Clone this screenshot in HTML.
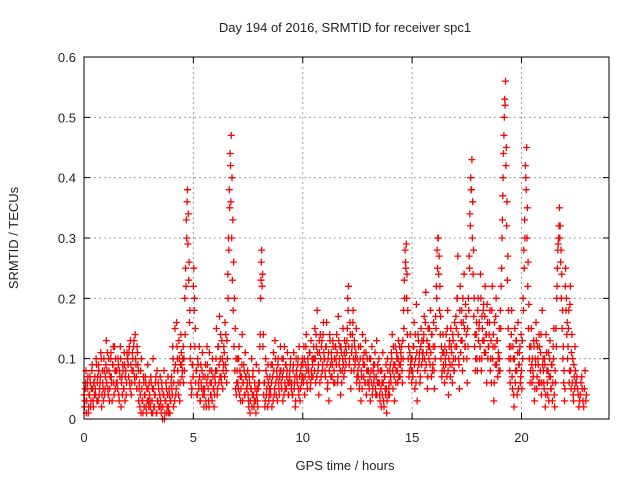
<!DOCTYPE html>
<html><head><meta charset="utf-8"><style>
body{margin:0;background:#fff;}
svg text{font-family:"Liberation Sans",sans-serif;font-size:13px;fill:#222;}
</style></head><body>
<svg id="chart" width="640" height="480" xmlns="http://www.w3.org/2000/svg">
<text x="345" y="32" text-anchor="middle">Day 194 of 2016, SRMTID for receiver spc1</text>
<text x="345" y="470" text-anchor="middle">GPS time / hours</text>
<text x="0" y="0" text-anchor="middle" transform="translate(18,238) rotate(-90)">SRMTID / TECUs</text>
<g id="grid"></g>
<g id="marks"></g>
<rect x="84" y="57" width="525" height="362" fill="none" stroke="#000" stroke-width="1"/>
<g id="ticks"></g>
</svg>
<script>
const xTicks=[0,5,10,15,20];
const yTicks=[0,0.1,0.2,0.3,0.4,0.5,0.6];
const yTickLabels=["0","0.1","0.2","0.3","0.4","0.5","0.6"];
const binStarts=[0,0.5,1,1.5,2,2.5,3,3.5,4,4.5,5,5.5,6,6.5,7,7.5,8,8.5,9,9.5,10,10.5,11,11.5,12,12.5,13,13.5,14,14.5,15,15.5,16,16.5,17,17.5,18,18.5,19,19.5,20,20.5,21,21.5,22,22.5];
const binValues=[
[.02,.05,.08,.03,.06,.01,.04,.07,.02,.05,.09,.03,.06,.04],
[.05,.1,.03,.07,.09,.04,.06,.11,.02,.08,.05,.1,.04,.07],
[.13,.08,.05,.1,.03,.07,.11,.06,.09,.12,.04,.08,.1,.06],
[.06,.1,.04,.08,.12,.02,.07,.09,.05,.11,.03,.08,.06,.1],
[.09,.11,.06,.13,.04,.08,.1,.12,.07,.14,.09,.05,.11,.08],
[.05,.02,.08,.1,.03,.01,.06,.04,.07,.02,.05,.09,.03,.06],
[.03,.07,.01,.05,.1,.02,.04,.06,.01,.08,.03,.05,.02,.07],
[.02,.06,0,.04,.08,.01,.03,.05,.02,.07,.01,.04,.03,.06],
[.05,.12,.02,.08,.15,.04,.16,.1,.06,.13,.03,.09,.11,.07],
[.1,.06,.08,.14,.22,.3,.38,.34,.26,.18,.12,.04,.09,.07],
[.25,.2,.15,.08,.04,.1,.06,.12,.03,.09,.05,.11,.07,.02],
[.05,.09,.02,.12,.07,.03,.11,.06,.04,.08,.1,.05,.02,.07],
[.08,.15,.04,.12,.06,.17,.1,.07,.13,.05,.09,.11,.16,.14],
[.06,.1,.2,.28,.35,.42,.47,.4,.33,.26,.2,.15,.1,.06],
[.1,.05,.12,.08,.03,.07,.14,.06,.09,.04,.11,.07,.05,.08],
[.03,.07,.01,.05,.1,.04,.08,.02,.06,.03,.09,.05,.02,.06],
[.06,.14,.23,.28,.24,.14,.06,.02,.1,.04,.07,.09,.03,.05],
[.05,.09,.02,.07,.11,.04,.13,.06,.08,.03,.1,.05,.07,.12],
[.06,.1,.03,.08,.12,.05,.09,.07,.11,.04,.06,.08,.1,.05],
[.04,.08,.11,.06,.02,.1,.07,.09,.05,.12,.03,.08,.06,.1],
[.07,.12,.04,.09,.14,.06,.1,.08,.11,.05,.13,.07,.09,.1],
[.1,.15,.06,.12,.18,.08,.04,.11,.14,.07,.13,.09,.16,.1],
[.08,.12,.16,.05,.1,.03,.14,.09,.11,.07,.13,.06,.1,.12],
[.1,.14,.06,.17,.09,.12,.04,.11,.08,.15,.07,.13,.1,.09],
[.13,.2,.22,.09,.16,.05,.11,.14,.18,.08,.12,.1,.15,.07],
[.08,.12,.05,.1,.03,.07,.14,.09,.11,.06,.13,.04,.1,.08],
[.06,.1,.03,.08,.12,.05,.09,.07,.11,.04,.13,.06,.08,.1],
[.04,.08,.02,.06,.11,.03,.07,.05,.09,.01,.1,.04,.06,.08],
[.07,.11,.14,.05,.09,.03,.12,.08,.1,.06,.13,.09,.07,.11],
[.12,.06,.1,.15,.2,.26,.29,.24,.18,.12,.08,.14,.1,.06],
[.08,.12,.16,.05,.1,.19,.03,.14,.09,.11,.07,.15,.13,.1],
[.13,.17,.08,.21,.11,.05,.15,.1,.12,.18,.07,.14,.09,.16],
[.05,.1,.15,.2,.25,.3,.27,.22,.17,.12,.08,.14,.11,.06],
[.1,.14,.07,.18,.04,.12,.09,.15,.11,.06,.13,.08,.16,.1],
[.15,.2,.27,.1,.05,.22,.13,.18,.08,.16,.24,.12,.19,.14],
[.06,.12,.18,.25,.32,.38,.43,.36,.28,.2,.14,.1,.16,.08],
[.2,.15,.1,.24,.08,.17,.13,.19,.11,.22,.14,.06,.16,.12],
[.14,.18,.1,.06,.22,.12,.03,.16,.09,.2,.13,.07,.11,.15],
[.08,.15,.25,.33,.4,.47,.53,.56,.45,.36,.27,.18,.12,.06],
[.12,.18,.05,.1,.02,.15,.08,.13,.04,.16,.09,.11,.06,.14],
[.05,.1,.18,.25,.3,.4,.45,.35,.26,.19,.12,.08,.15,.06],
[.08,.13,.03,.1,.16,.05,.12,.09,.14,.06,.11,.04,.18,.1],
[.06,.1,.02,.14,.08,.04,.11,.07,.13,.05,.09,.03,.12,.15],
[.02,.06,.12,.22,.28,.3,.35,.32,.28,.24,.18,.12,.08,.05],
[.25,.2,.16,.12,.18,.08,.22,.05,.14,.1,.03,.07,.12,.06],
[.07,.04,.03,.06,.05,.02,.08,.04]
];
const binValues2=[
[.04,.03,.06,.01,.05,.07,.02,.04,.06,.03,.08,.05,.02,.06],
[.07,.04,.09,.06,.03,.08,.05,.07,.1,.04,.06,.03,.08,.05],
[.09,.06,.11,.04,.08,.05,.1,.07,.03,.09,.06,.12,.05,.08],
[.08,.05,.09,.03,.07,.1,.06,.04,.08,.05,.09,.07,.04,.11],
[.1,.07,.12,.05,.09,.06,.11,.08,.13,.06,.1,.07,.12,.09],
[.03,.06,.04,.01,.05,.03,.07,.02,.04,.06,.01,.03,.05,.02],
[.04,.02,.06,.03,.01,.05,.02,.04,.07,.01,.03,.06,.02,.04],
[.03,.01,.05,.02,.04,0,.03,.06,.01,.04,.02,.05,.01,.03],
[.07,.04,.1,.06,.03,.09,.05,.12,.08,.04,.1,.06,.14,.09],
[.08,.12,.1,.2,.25,.33,.36,.29,.23,.16,.1,.06,.05,.09],
[.22,.18,.12,.06,.08,.04,.09,.05,.07,.03,.06,.08,.04,.05],
[.04,.07,.03,.06,.09,.05,.02,.08,.04,.06,.03,.07,.05,.04],
[.06,.1,.08,.05,.12,.09,.07,.14,.06,.1,.08,.12,.07,.09],
[.08,.13,.24,.3,.38,.44,.36,.3,.23,.18,.12,.08,.05,.04],
[.08,.06,.1,.04,.07,.05,.09,.03,.06,.08,.04,.07,.05,.06],
[.04,.02,.06,.03,.05,.02,.07,.04,.03,.05,.01,.04,.03,.05],
[.08,.12,.2,.26,.22,.12,.04,.06,.03,.08,.05,.02,.06,.04],
[.07,.04,.06,.09,.03,.08,.05,.1,.04,.07,.09,.06,.04,.08],
[.08,.05,.07,.1,.04,.06,.09,.05,.08,.06,.04,.07,.09,.06],
[.06,.04,.09,.05,.07,.03,.08,.06,.1,.04,.07,.05,.09,.07],
[.09,.06,.1,.07,.12,.08,.05,.09,.07,.11,.06,.08,.1,.07],
[.12,.08,.1,.14,.07,.11,.09,.13,.06,.1,.12,.08,.14,.11],
[.1,.07,.12,.09,.06,.11,.08,.13,.07,.1,.09,.12,.08,.06],
[.12,.09,.11,.07,.13,.1,.08,.12,.06,.1,.09,.11,.08,.12],
[.11,.15,.18,.12,.1,.14,.08,.12,.16,.1,.13,.09,.11,.06],
[.1,.07,.09,.06,.12,.08,.05,.1,.07,.09,.06,.11,.08,.06],
[.08,.05,.07,.1,.06,.04,.08,.06,.09,.05,.07,.04,.09,.06],
[.06,.03,.05,.08,.04,.06,.02,.07,.04,.05,.03,.08,.05,.04],
[.09,.06,.1,.08,.12,.07,.09,.06,.11,.08,.1,.07,.12,.09],
[.1,.08,.13,.18,.23,.28,.25,.2,.14,.1,.07,.11,.09,.08],
[.1,.07,.12,.09,.14,.06,.11,.08,.13,.1,.06,.12,.09,.11],
[.11,.14,.1,.16,.09,.13,.07,.12,.15,.09,.11,.14,.08,.12],
[.08,.12,.17,.22,.28,.3,.24,.18,.14,.1,.07,.11,.09,.08],
[.12,.09,.11,.15,.08,.1,.13,.07,.12,.09,.14,.1,.08,.12],
[.17,.12,.2,.14,.09,.18,.11,.16,.13,.2,.1,.15,.12,.17],
[.1,.15,.2,.27,.34,.4,.38,.3,.24,.17,.12,.08,.14,.1],
[.18,.13,.16,.12,.2,.1,.15,.18,.13,.17,.11,.14,.19,.1],
[.12,.16,.08,.13,.18,.1,.14,.06,.12,.17,.09,.13,.1,.08],
[.1,.18,.22,.3,.37,.44,.5,.52,.42,.32,.23,.15,.1,.08],
[.1,.14,.07,.12,.04,.1,.06,.13,.08,.11,.05,.09,.12,.07],
[.08,.13,.2,.28,.33,.42,.38,.3,.22,.15,.1,.06,.12,.09],
[.1,.07,.12,.05,.09,.13,.07,.1,.06,.12,.08,.14,.06,.09],
[.08,.05,.09,.04,.11,.06,.08,.03,.1,.07,.05,.09,.06,.1],
[.04,.08,.15,.2,.25,.29,.32,.3,.26,.2,.15,.1,.06,.03],
[.22,.18,.14,.1,.15,.06,.19,.08,.11,.06,.04,.09,.05,.08],
[.06,.05,.02,.04,.07,.03,.05,.03]
];
const NS="http://www.w3.org/2000/svg";
const X0=84,X1=609,Y0=419,Y1=57,XMAX=24,YMAX=0.6;
function xs(v){return X0+(X1-X0)*v/XMAX;}
function ys(v){return Y0-(Y0-Y1)*v/YMAX;}
const grid=document.getElementById('grid'),ticks=document.getElementById('ticks'),marks=document.getElementById('marks');
function mk(tag,attrs,parent){const e=document.createElementNS(NS,tag);for(const k in attrs)e.setAttribute(k,attrs[k]);parent.appendChild(e);return e;}
xTicks.forEach(t=>{
  const x=xs(t);
  if(t>0){const g=mk('line',{x1:x,x2:x,y1:Y0,y2:Y1,stroke:'#a0a0a0','stroke-dasharray':'2,3'},grid);
  
  }
  const tk=mk('path',{d:`M${x},${Y0}v-6M${x},${Y1}v6`,stroke:'#000'},ticks);
  
  
  const l=mk('text',{x:x,y:Y0+23,'text-anchor':'middle'},ticks);l.textContent=t;
  
  
});
yTicks.forEach((t,i)=>{
  const y=ys(t);
  if(t>0&&t<YMAX){const g=mk('line',{x1:X0,x2:X1,y1:y,y2:y,stroke:'#a0a0a0','stroke-dasharray':'2,3'},grid);
  
  }
  const tk=mk('path',{d:`M${X0},${y}h6M${X1},${y}h-6`,stroke:'#000'},ticks);
  
  
  const l=mk('text',{x:X0-8,y:y+5,'text-anchor':'end'},ticks);l.textContent=yTickLabels[i];
  
  
});
function crosses(values,offset){
  let d='';
  binStarts.forEach((b,bi)=>{
    const vals=values[bi],n=vals.length;
    vals.forEach((v,i)=>{
      const x=xs(b+(i+offset)*0.5/n),y=ys(v);
      d+=`M${(x-3.5).toFixed(1)},${y.toFixed(1)}h7M${x.toFixed(1)},${(y-3.5).toFixed(1)}v7`;
    });
  });
  return d;
}
const p2=mk('path',{d:crosses(binValues2,0.0),stroke:'#ff0000','stroke-width':1.3,fill:'none'},marks);


const p=mk('path',{d:crosses(binValues,0.5),stroke:'#ff0000','stroke-width':1.3,fill:'none'},marks);


</script>
</body></html>
